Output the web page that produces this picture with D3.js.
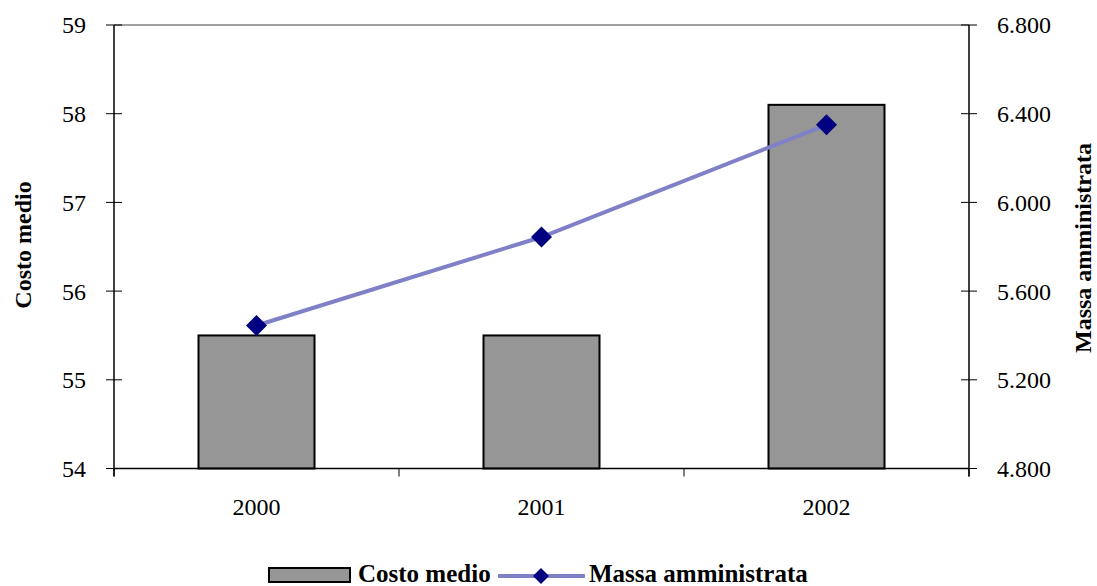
<!DOCTYPE html>
<html>
<head>
<meta charset="utf-8">
<script src="https://cdn.jsdelivr.net/npm/d3@7"></script>
<style>
  html, body { margin: 0; padding: 0; background: #fff; }
  svg { display: block; }
  svg text { font-family: "Liberation Serif", "DejaVu Serif", serif; }
</style>
</head>
<body>
<svg id="chart" width="1097" height="586"></svg>
<script>
// Average cost (left axis) and administered volume (right axis) by year
const years = ["2000", "2001", "2002"];
const costoMedio = [55.5, 55.5, 58.1];
const massaAmministrata = [5445, 5844, 6350];
const leftTicks = [54, 55, 56, 57, 58, 59];
const rightTicks = [4800, 5200, 5600, 6000, 6400, 6800];

const svg = d3.select("#chart");
const plot = { left: 114, right: 969, top: 25, bottom: 468.5 };

const x = d3.scaleBand().domain(years).range([plot.left, plot.right]);
const yL = d3.scaleLinear().domain([54, 59]).range([plot.bottom, plot.top]);
const yR = d3.scaleLinear().domain([4800, 6800]).range([plot.bottom, plot.top]);

const fmtIt = d => d3.format(",")(d).replace(/,/g, ".");
const tickFont = 24;

// top border of the plot area
svg.append("line")
  .attr("x1", plot.left).attr("x2", plot.right)
  .attr("y1", plot.top).attr("y2", plot.top)
  .attr("stroke", "#808080").attr("stroke-width", 1.5);

// bars
const barW = 116;
svg.append("g").selectAll("rect").data(years).join("rect")
  .attr("x", d => x(d) + x.bandwidth() / 2 - barW / 2)
  .attr("y", (d, i) => yL(costoMedio[i]))
  .attr("width", barW)
  .attr("height", (d, i) => plot.bottom - yL(costoMedio[i]))
  .attr("fill", "#969696")
  .attr("stroke", "#000")
  .attr("stroke-width", 2);

// left axis
const gL = svg.append("g").attr("transform", `translate(${plot.left},0)`);
gL.append("line").attr("y1", plot.top).attr("y2", plot.bottom + 8)
  .attr("stroke", "#000").attr("stroke-width", 1.5);
gL.selectAll("line.t").data(leftTicks).join("line").attr("class", "t")
  .attr("x1", -8).attr("x2", 8)
  .attr("y1", d => yL(d)).attr("y2", d => yL(d))
  .attr("stroke", "#000").attr("stroke-width", 1);
gL.selectAll("text").data(leftTicks).join("text")
  .attr("x", -28).attr("y", d => yL(d)).attr("dy", "0.35em")
  .attr("text-anchor", "end").attr("font-size", tickFont)
  .text(d => d);

// right axis
const gR = svg.append("g").attr("transform", `translate(${plot.right},0)`);
gR.append("line").attr("y1", plot.top).attr("y2", plot.bottom + 8)
  .attr("stroke", "#000").attr("stroke-width", 1.5);
gR.selectAll("line.t").data(rightTicks).join("line").attr("class", "t")
  .attr("x1", -8).attr("x2", 8)
  .attr("y1", d => yR(d)).attr("y2", d => yR(d))
  .attr("stroke", "#000").attr("stroke-width", 1);
gR.selectAll("text").data(rightTicks).join("text")
  .attr("x", 28).attr("y", d => yR(d)).attr("dy", "0.35em")
  .attr("text-anchor", "start").attr("font-size", tickFont)
  .text(d => fmtIt(d));

// bottom axis
const gB = svg.append("g");
gB.append("line").attr("x1", plot.left).attr("x2", plot.right)
  .attr("y1", plot.bottom).attr("y2", plot.bottom)
  .attr("stroke", "#000").attr("stroke-width", 1.5);
const bounds = years.map(d => x(d)).concat([plot.right]);
gB.selectAll("line.t").data(bounds).join("line").attr("class", "t")
  .attr("x1", d => d).attr("x2", d => d)
  .attr("y1", plot.bottom).attr("y2", plot.bottom + 8)
  .attr("stroke", "#000").attr("stroke-width", 1);
gB.selectAll("text").data(years).join("text")
  .attr("x", d => x(d) + x.bandwidth() / 2).attr("y", 515)
  .attr("text-anchor", "middle").attr("font-size", tickFont)
  .text(d => d);

// axis titles
svg.append("text")
  .attr("transform", "translate(31,245) rotate(-90)")
  .attr("text-anchor", "middle")
  .attr("font-size", 24).attr("font-weight", "bold")
  .text("Costo medio");

svg.append("text")
  .attr("transform", "translate(1091,248) rotate(-90)")
  .attr("text-anchor", "middle")
  .attr("font-size", 24).attr("font-weight", "bold")
  .text("Massa amministrata");

// line series
const line = d3.line()
  .x((d, i) => x(years[i]) + x.bandwidth() / 2)
  .y(d => yR(d));
svg.append("path").datum(massaAmministrata)
  .attr("d", line)
  .attr("fill", "none")
  .attr("stroke", "#8080C8")
  .attr("stroke-width", 4);

svg.append("g").selectAll("path").data(massaAmministrata).join("path")
  .attr("transform", (d, i) => `translate(${x(years[i]) + x.bandwidth() / 2},${yR(d)}) rotate(45)`)
  .attr("d", d3.symbol().type(d3.symbolSquare).size(220))
  .attr("fill", "#000080");

// legend
const lg = svg.append("g");
lg.append("rect").attr("x", 269).attr("y", 568).attr("width", 81).attr("height", 14)
  .attr("fill", "#969696").attr("stroke", "#000").attr("stroke-width", 2);
lg.append("text").attr("x", 358).attr("y", 582)
  .attr("font-size", 25).attr("font-weight", "bold").text("Costo medio");
lg.append("line").attr("x1", 498).attr("x2", 585).attr("y1", 576).attr("y2", 576)
  .attr("stroke", "#8080C8").attr("stroke-width", 4);
lg.append("path").attr("transform", "translate(541,576) rotate(45)")
  .attr("d", d3.symbol().type(d3.symbolSquare).size(128))
  .attr("fill", "#000080");
lg.append("text").attr("x", 589).attr("y", 582)
  .attr("font-size", 25).attr("font-weight", "bold").text("Massa amministrata");
</script>
</body>
</html>
